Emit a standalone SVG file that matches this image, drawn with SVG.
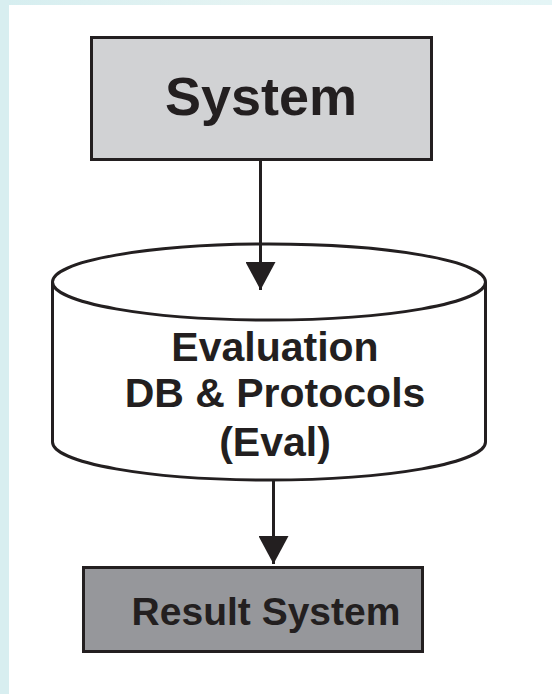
<svg xmlns="http://www.w3.org/2000/svg" width="552" height="694" viewBox="0 0 552 694">
  <defs>
    <style>
      .box { stroke: #231f20; stroke-width: 3; }
      .db { fill: #ffffff; stroke: #231f20; stroke-width: 3; }
      .lbl { font-family: "Liberation Sans", Arial, sans-serif; font-weight: bold; fill: #231f20; text-anchor: middle; }
      .edge { stroke: #231f20; stroke-width: 3; fill: none; }
    </style>
    <!-- solid triangular head, tip at the end of the line -->
    <marker id="arrow" viewBox="0 0 28 30" refX="28" refY="15" markerWidth="28" markerHeight="30" markerUnits="userSpaceOnUse" orient="auto">
      <path d="M0,0 L28,15 L0,30 Z" fill="#231f20"/>
    </marker>
    <linearGradient id="band" x1="0" y1="0" x2="1" y2="0">
      <stop offset="0" stop-color="#d6eef0"/>
      <stop offset="0.5" stop-color="#e6f4f3"/>
      <stop offset="1" stop-color="#e4f5f6"/>
    </linearGradient>
  </defs>

  <!-- page background with light frame -->
  <rect x="0" y="0" width="552" height="694" fill="#ffffff"/>
  <rect x="0" y="0" width="552" height="5" fill="url(#band)"/>
  <rect x="0" y="0" width="9" height="694" fill="#d8eef0"/>

  <g id="system">
    <rect class="box" x="91.5" y="37.5" width="340" height="122" fill="#d1d2d4"/>
    <text class="lbl" x="261" y="115" font-size="54">System</text>
  </g>

  <g id="eval-db">
    <path class="db" d="M52.5,282 L52.5,442 A216.5,38 0 0 0 485.5,442 L485.5,282"/>
    <ellipse class="db" cx="269" cy="282" rx="216.5" ry="38"/>
    <text class="lbl" x="275" y="361" font-size="41">Evaluation</text>
    <text class="lbl" x="275" y="407" font-size="41">DB &amp; Protocols</text>
    <text class="lbl" x="275" y="456" font-size="41">(Eval)</text>
  </g>

  <g id="result">
    <rect class="box" x="83.5" y="567.5" width="339" height="84" fill="#96979b"/>
    <text class="lbl" x="266" y="625" font-size="39">Result System</text>
  </g>

  <g id="edges">
    <line class="edge" x1="260.5" y1="160" x2="260.5" y2="290" marker-end="url(#arrow)"/>
    <line class="edge" x1="273.5" y1="481" x2="273.5" y2="564" marker-end="url(#arrow)"/>
  </g>
</svg>
